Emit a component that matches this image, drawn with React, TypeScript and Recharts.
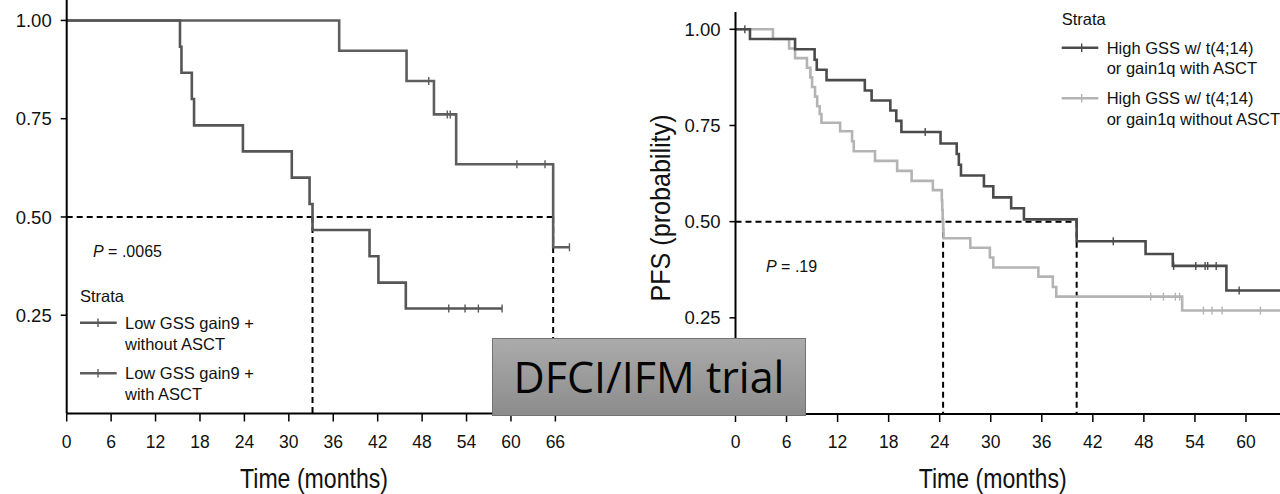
import React from 'react';
import { LineChart, Line, XAxis, YAxis, ReferenceLine } from 'recharts';

type Pt = { t: number; s: number; c?: number };

// ---------- data ----------
const leftXTicks = [0, 6, 12, 18, 24, 30, 36, 42, 48, 54, 60, 66];
const rightXTicks = [0, 6, 12, 18, 24, 30, 36, 42, 48, 54, 60];
const yTicks = [0.25, 0.5, 0.75, 1.0];

// Left panel: Low GSS gain9 + without ASCT
const leftWithoutASCT: Pt[] = [
  { t: 0, s: 1 },
  { t: 15.3, s: 0.933 },
  { t: 15.5, s: 0.867 },
  { t: 16.9, s: 0.8 },
  { t: 17.2, s: 0.733 },
  { t: 23.8, s: 0.667 },
  { t: 30.4, s: 0.6 },
  { t: 32.8, s: 0.533 },
  { t: 33.2, s: 0.467 },
  { t: 40.9, s: 0.4 },
  { t: 42.1, s: 0.333 },
  { t: 45.8, s: 0.267 },
  { t: 51.6, s: 0.267, c: 1 },
  { t: 53.8, s: 0.267, c: 1 },
  { t: 55.6, s: 0.267, c: 1 },
  { t: 58.8, s: 0.267, c: 1 },
];

// Left panel: Low GSS gain9 + with ASCT
const leftWithASCT: Pt[] = [
  { t: 0, s: 1 },
  { t: 36.8, s: 0.923 },
  { t: 45.9, s: 0.846 },
  { t: 48.9, s: 0.846, c: 1 },
  { t: 49.6, s: 0.761 },
  { t: 51.4, s: 0.761, c: 1 },
  { t: 51.8, s: 0.761, c: 1 },
  { t: 52.6, s: 0.634 },
  { t: 60.8, s: 0.634, c: 1 },
  { t: 64.6, s: 0.634, c: 1 },
  { t: 65.7, s: 0.423 },
  { t: 67.9, s: 0.423, c: 1 },
];

// Right panel: High GSS w/ t(4;14) or gain1q with ASCT
const rightWithASCT: Pt[] = [
  { t: 0, s: 1 },
  { t: 1.1, s: 1, c: 1 },
  { t: 1.7, s: 0.975 },
  { t: 7.0, s: 0.948 },
  { t: 9.3, s: 0.921 },
  { t: 9.55, s: 0.895 },
  { t: 10.7, s: 0.868 },
  { t: 15.2, s: 0.841 },
  { t: 16.0, s: 0.815 },
  { t: 18.2, s: 0.789 },
  { t: 18.9, s: 0.762 },
  { t: 19.5, s: 0.733 },
  { t: 22.3, s: 0.733, c: 1 },
  { t: 24.1, s: 0.703 },
  { t: 26.0, s: 0.676 },
  { t: 26.25, s: 0.648 },
  { t: 26.5, s: 0.62 },
  { t: 29.2, s: 0.592 },
  { t: 30.3, s: 0.563 },
  { t: 32.4, s: 0.535 },
  { t: 33.9, s: 0.506 },
  { t: 40.1, s: 0.449 },
  { t: 44.4, s: 0.449, c: 1 },
  { t: 48.2, s: 0.416 },
  { t: 51.4, s: 0.385 },
  { t: 51.5, s: 0.385, c: 1 },
  { t: 54.1, s: 0.385, c: 1 },
  { t: 55.2, s: 0.385, c: 1 },
  { t: 55.5, s: 0.385, c: 1 },
  { t: 56.5, s: 0.385, c: 1 },
  { t: 57.7, s: 0.321 },
  { t: 59.2, s: 0.321, c: 1 },
  { t: 64, s: 0.321 },
];

// Right panel: High GSS w/ t(4;14) or gain1q without ASCT
const rightWithoutASCT: Pt[] = [
  { t: 0, s: 1 },
  { t: 4.4, s: 0.975 },
  { t: 6.3, s: 0.95 },
  { t: 7.0, s: 0.925 },
  { t: 8.4, s: 0.9 },
  { t: 8.8, s: 0.875 },
  { t: 9.0, s: 0.85 },
  { t: 9.35, s: 0.825 },
  { t: 9.6, s: 0.8 },
  { t: 9.9, s: 0.78 },
  { t: 10.1, s: 0.757 },
  { t: 12.3, s: 0.735 },
  { t: 13.7, s: 0.709 },
  { t: 13.9, s: 0.683 },
  { t: 16.4, s: 0.658 },
  { t: 19.0, s: 0.632 },
  { t: 20.7, s: 0.606 },
  { t: 23.2, s: 0.582 },
  { t: 24.25, s: 0.555 },
  { t: 24.3, s: 0.53 },
  { t: 24.35, s: 0.505 },
  { t: 24.4, s: 0.48 },
  { t: 24.45, s: 0.457 },
  { t: 27.6, s: 0.432 },
  { t: 29.9, s: 0.407 },
  { t: 30.3, s: 0.381 },
  { t: 35.6, s: 0.357 },
  { t: 37.3, s: 0.33 },
  { t: 37.7, s: 0.305 },
  { t: 48.8, s: 0.305, c: 1 },
  { t: 50.3, s: 0.305, c: 1 },
  { t: 51.7, s: 0.305, c: 1 },
  { t: 52.2, s: 0.305, c: 1 },
  { t: 52.5, s: 0.269 },
  { t: 55.0, s: 0.269, c: 1 },
  { t: 56.0, s: 0.269, c: 1 },
  { t: 57.2, s: 0.269, c: 1 },
  { t: 61.7, s: 0.269, c: 1 },
  { t: 64, s: 0.269 },
];

const leftMedians = [33.2, 65.7];
const rightMedians = [24.4, 40.1];

const leftLegend = ['Low GSS gain9 +', 'without ASCT', 'Low GSS gain9 +', 'with ASCT'];
const rightLegend = [
  'High GSS w/ t(4;14)',
  'or gain1q with ASCT',
  'High GSS w/ t(4;14)',
  'or gain1q without ASCT',
];

// ---------- styles ----------
const FONT = "'Liberation Sans', Arial, Helvetica, sans-serif";
const NARROW = "'Liberation Sans Narrow', 'Arial Narrow', 'Liberation Sans', sans-serif";
const LEFT_C1 = '#565656';
const LEFT_C2 = '#5e5e5e';
const DARK = '#4b4b4b';
const LIGHT = '#b4b4b4';

const censorDot = (color: string, h: number) => (props: any) => {
  const { cx, cy, payload, index } = props;
  if (!payload || !payload.c || cx == null || cy == null) return <g key={`d${index}`} />;
  return (
    <line key={`d${index}`} x1={cx} x2={cx} y1={cy - h} y2={cy + h} stroke={color} strokeWidth={1.4} />
  );
};

const AxisTitle = (props: any) => {
  const { tx, ty, text, len, rotate } = props;
  return (
    <text
      x={0}
      y={0}
      transform={rotate ? `translate(${tx},${ty}) rotate(-90)` : `translate(${tx},${ty})`}
      textAnchor="middle"
      fontFamily={NARROW}
      fontSize={28}
      fill="#111"
      textLength={len}
      lengthAdjust="spacingAndGlyphs"
    >
      {text}
    </text>
  );
};

const yTickStyle = { fill: '#111', fontSize: 18.5, fontFamily: FONT };
const xTickStyle = { fill: '#111', fontSize: 17.5, fontFamily: FONT };
const axisLine = { stroke: '#000', strokeWidth: 2 };
const tickLine = { stroke: '#000', strokeWidth: 1.5 };
const fmt = (v: number) => v.toFixed(2);

export default function App() {
  return (
    <div
      style={{
        position: 'absolute',
        left: 0,
        top: 0,
        width: 1280,
        height: 494,
        background: '#fff',
        overflow: 'hidden',
        fontFamily: FONT,
      }}
    >
      {/* Left panel */}
      <div style={{ position: 'absolute', left: 0, top: 0 }}>
        <LineChart width={620} height={494} margin={{ top: 0, right: 35, bottom: 0, left: 0 }}>
          <XAxis
            type="number"
            dataKey="t"
            domain={[0, 70]}
            ticks={leftXTicks}
            interval={0}
            height={80.5}
            tick={xTickStyle}
            tickSize={8}
            tickMargin={14}
            axisLine={axisLine}
            tickLine={tickLine}
            label={<AxisTitle tx={314} ty={488} text="Time (months)" len={148} />}
          />
          <YAxis
            type="number"
            domain={[0, 1.052]}
            ticks={yTicks}
            width={66.7}
            tickFormatter={fmt}
            tick={yTickStyle}
            tickSize={6}
            tickMargin={9}
            axisLine={axisLine}
            tickLine={tickLine}
          />
          <ReferenceLine
            segment={[{ x: 0, y: 0.5 }, { x: leftMedians[1], y: 0.5 }]}
            stroke="#000"
            strokeWidth={2}
            strokeDasharray="6 4"
          />
          {leftMedians.map((m) => (
            <ReferenceLine
              key={`lm${m}`}
              segment={[{ x: m, y: 0.5 }, { x: m, y: 0 }]}
              stroke="#000"
              strokeWidth={2}
              strokeDasharray="6 4"
            />
          ))}
          <Line
            data={leftWithASCT}
            dataKey="s"
            type="stepAfter"
            stroke={LEFT_C2}
            strokeWidth={2.6}
            dot={censorDot(LEFT_C2, 4)}
            activeDot={false}
            isAnimationActive={false}
          />
          <Line
            data={leftWithoutASCT}
            dataKey="s"
            type="stepAfter"
            stroke={LEFT_C1}
            strokeWidth={2.6}
            dot={censorDot(LEFT_C1, 4)}
            activeDot={false}
            isAnimationActive={false}
          />
        </LineChart>
      </div>

      {/* Right panel */}
      <div style={{ position: 'absolute', left: 620, top: 0 }}>
        <LineChart width={660} height={494} margin={{ top: 12, right: 0, bottom: 0, left: 0 }}>
          <XAxis
            type="number"
            dataKey="t"
            domain={[0, 64]}
            ticks={rightXTicks}
            interval={0}
            height={80}
            tick={xTickStyle}
            tickSize={8}
            tickMargin={14}
            axisLine={axisLine}
            tickLine={tickLine}
            label={<AxisTitle tx={372.7} ty={488} text="Time (months)" len={148} />}
          />
          <YAxis
            type="number"
            domain={[0, 1.045]}
            ticks={yTicks}
            width={115.5}
            tickFormatter={fmt}
            tick={yTickStyle}
            tickSize={6}
            tickMargin={9}
            axisLine={axisLine}
            tickLine={tickLine}
            label={<AxisTitle tx={50} ty={208} text="PFS (probability)" len={187} rotate />}
          />
          <ReferenceLine
            segment={[{ x: 0, y: 0.5 }, { x: rightMedians[1], y: 0.5 }]}
            stroke="#000"
            strokeWidth={2}
            strokeDasharray="6 4"
          />
          {rightMedians.map((m) => (
            <ReferenceLine
              key={`rm${m}`}
              segment={[{ x: m, y: 0.5 }, { x: m, y: 0 }]}
              stroke="#000"
              strokeWidth={2}
              strokeDasharray="6 4"
            />
          ))}
          <Line
            data={rightWithoutASCT}
            dataKey="s"
            type="stepAfter"
            stroke={LIGHT}
            strokeWidth={2.6}
            dot={censorDot(LIGHT, 4)}
            activeDot={false}
            isAnimationActive={false}
          />
          <Line
            data={rightWithASCT}
            dataKey="s"
            type="stepAfter"
            stroke={DARK}
            strokeWidth={2.6}
            dot={censorDot(DARK, 4)}
            activeDot={false}
            isAnimationActive={false}
          />
        </LineChart>
      </div>

      {/* Annotations and legends */}
      <svg
        width={1280}
        height={494}
        style={{ position: 'absolute', left: 0, top: 0, pointerEvents: 'none' }}
        fontFamily={FONT}
        fill="#111"
      >
        <text x={93} y={257} fontSize={16}>
          <tspan fontStyle="italic">P</tspan>
          <tspan> = .0065</tspan>
        </text>
        <text x={80} y={301.7} fontSize={16.5}>Strata</text>
        <line x1={80} x2={116.7} y1={322.7} y2={322.7} stroke={LEFT_C1} strokeWidth={2.6} />
        <line x1={98} x2={98} y1={318.5} y2={327} stroke={LEFT_C1} strokeWidth={1.4} />
        <text x={125} y={329.3} fontSize={16.5}>{leftLegend[0]}</text>
        <text x={125} y={349.8} fontSize={16.5}>{leftLegend[1]}</text>
        <line x1={80} x2={116.7} y1={373.3} y2={373.3} stroke={LEFT_C2} strokeWidth={2.6} />
        <line x1={98} x2={98} y1={369} y2={377.5} stroke={LEFT_C2} strokeWidth={1.4} />
        <text x={125} y={379} fontSize={16.5}>{leftLegend[2]}</text>
        <text x={125} y={399.5} fontSize={16.5}>{leftLegend[3]}</text>

        <text x={766} y={271.5} fontSize={16}>
          <tspan fontStyle="italic">P</tspan>
          <tspan> = .19</tspan>
        </text>
        <text x={1061.7} y={25.3} fontSize={16.5}>Strata</text>
        <line x1={1061.7} x2={1098.3} y1={47.7} y2={47.7} stroke={DARK} strokeWidth={2.6} />
        <line x1={1081.7} x2={1081.7} y1={43.5} y2={52} stroke={DARK} strokeWidth={1.4} />
        <text x={1106.7} y={53.5} fontSize={16.5}>{rightLegend[0]}</text>
        <text x={1106.7} y={74.3} fontSize={16.5}>{rightLegend[1]}</text>
        <line x1={1061.7} x2={1098.3} y1={98.3} y2={98.3} stroke={LIGHT} strokeWidth={2.6} />
        <line x1={1081.7} x2={1081.7} y1={94} y2={102.5} stroke={LIGHT} strokeWidth={1.4} />
        <text x={1106.7} y={104} fontSize={16.5}>{rightLegend[2]}</text>
        <text x={1106.7} y={124.7} fontSize={16.5}>{rightLegend[3]}</text>
      </svg>

      {/* Overlay box */}
      <div
        style={{
          position: 'absolute',
          left: 492,
          top: 338,
          width: 314,
          height: 78,
          boxSizing: 'border-box',
          border: '1px solid #737373',
          background: 'linear-gradient(#ababab, #8c8c8c)',
          display: 'flex',
          alignItems: 'center',
          justifyContent: 'center',
          fontFamily: "'Open Sans', 'Noto Sans', sans-serif",
          fontSize: 43,
          color: '#050505',
          lineHeight: 1,
          whiteSpace: 'nowrap',
          paddingBottom: 2,
        }}
      >
        DFCI/IFM trial
      </div>
    </div>
  );
}
